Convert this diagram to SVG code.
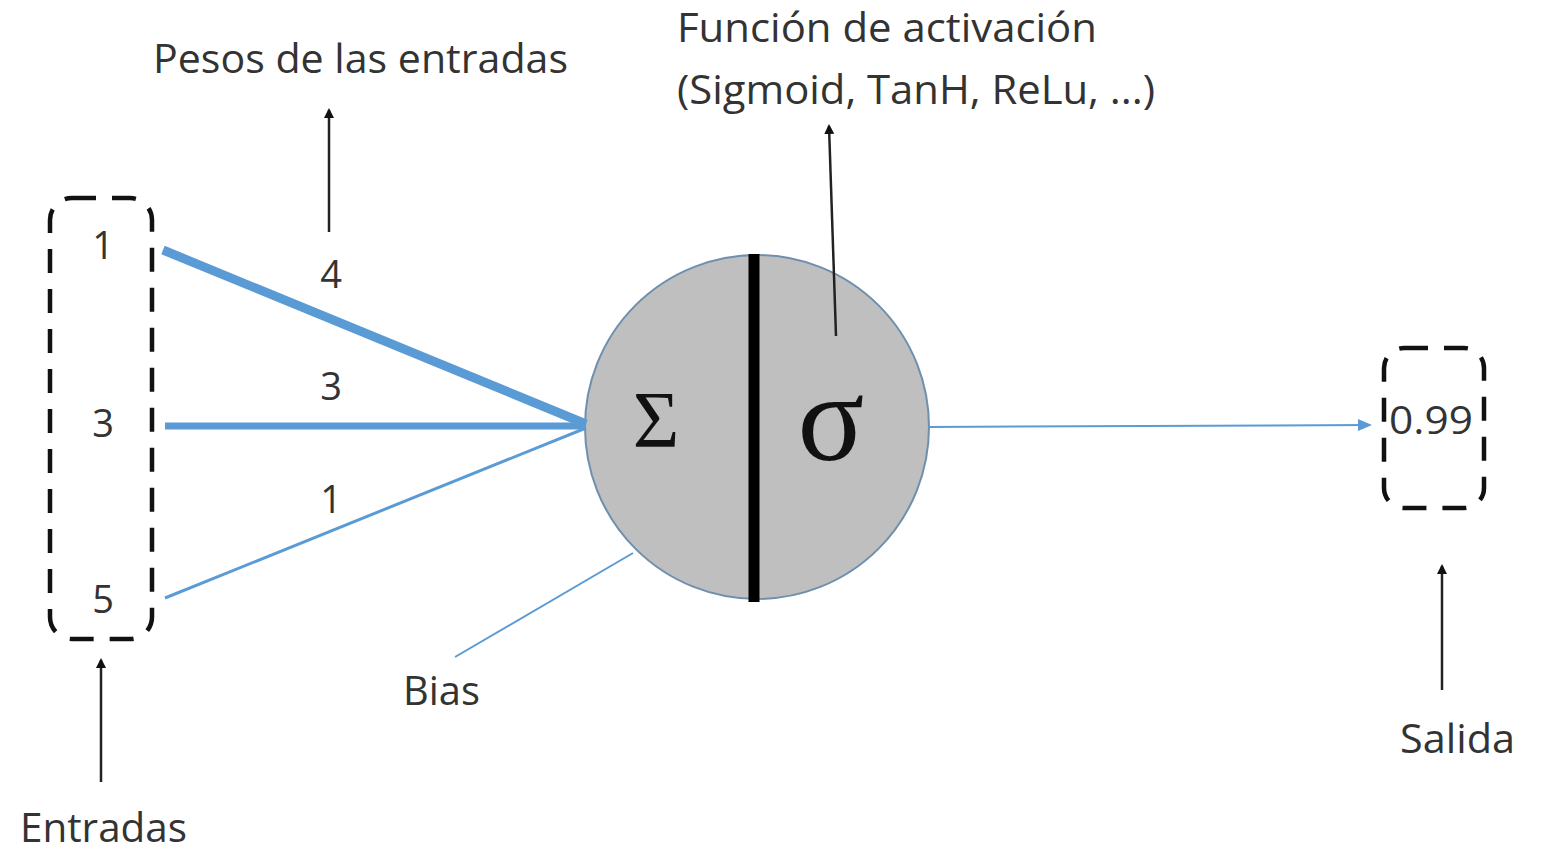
<svg xmlns="http://www.w3.org/2000/svg" width="1541" height="853" viewBox="0 0 1541 853">
<style>
.lbl{font-family:"Open Sans","Noto Sans",sans-serif;font-size:40px;fill:#333}
.num{font-family:"Open Sans","Noto Sans",sans-serif;font-size:38px;fill:#333;text-anchor:middle}
.greek{font-family:"Liberation Serif",serif;fill:#111;text-anchor:middle}
.dash{fill:none;stroke:#111;stroke-width:4.5;stroke-dasharray:24 16}
.blue{stroke:#5b9bd5;fill:none}
.ptr{stroke:#222;stroke-width:2.5;fill:none;marker-end:url(#ah)}
</style>
<defs>
<marker id="ah" markerWidth="10" markerHeight="10" refX="8" refY="5" orient="auto" markerUnits="userSpaceOnUse">
<path d="M0,0 L10,5 L0,10 z" fill="#111"/>
</marker>
<marker id="bh" markerWidth="14" markerHeight="12" refX="12" refY="6" orient="auto" markerUnits="userSpaceOnUse">
<path d="M0,0 L14,6 L0,12 z" fill="#5b9bd5"/>
</marker>
</defs>
<rect width="1541" height="853" fill="#fff"/>
<g id="neuron">
<circle cx="757" cy="427" r="172" fill="#bfbfbf" stroke="#6f8fae" stroke-width="2"/>
<line x1="754" y1="254" x2="754" y2="602" stroke="#000" stroke-width="11"/>
<text class="greek" x="656" y="447" font-size="80">Σ</text>
<text class="greek" x="831" y="460" font-size="124">σ</text>
</g>
<g id="connectors">
<line class="blue" x1="163" y1="250" x2="586" y2="424" stroke-width="9"/>
<line class="blue" x1="165" y1="426" x2="586" y2="426" stroke-width="7"/>
<line class="blue" x1="165" y1="598" x2="586" y2="428" stroke-width="3"/>
<line class="blue" x1="633" y1="553" x2="455" y2="657" stroke-width="2"/>
<line class="blue" x1="929" y1="427" x2="1370" y2="425" stroke-width="2" marker-end="url(#bh)"/>
<line class="ptr" x1="329" y1="232" x2="329" y2="110"/>
<line class="ptr" x1="836" y1="336" x2="829" y2="126"/>
<line class="ptr" x1="1442" y1="690" x2="1442" y2="566"/>
<line class="ptr" x1="101" y1="782" x2="101" y2="660"/>
</g>
<g id="inputs">
<rect class="dash" x="50" y="198" width="102" height="441" rx="22"/>
<text class="num" x="103" y="259">1</text>
<text class="num" x="103" y="437">3</text>
<text class="num" x="103" y="613">5</text>
</g>
<g id="weights">
<text class="num" x="331" y="288">4</text>
<text class="num" x="331" y="400">3</text>
<text class="num" x="331" y="513">1</text>
</g>
<g id="output">
<rect class="dash" x="1384" y="348" width="100" height="160" rx="20"/>
<text class="num" x="1431" y="434" textLength="84" lengthAdjust="spacingAndGlyphs">0.99</text>
</g>
<g id="labels">
<text class="lbl" x="153" y="73" textLength="415" lengthAdjust="spacingAndGlyphs">Pesos de las entradas</text>
<text class="lbl" x="677" y="42" textLength="420" lengthAdjust="spacingAndGlyphs">Función de activación</text>
<text class="lbl" x="677" y="104" textLength="478" lengthAdjust="spacingAndGlyphs">(Sigmoid, TanH, ReLu, ...)</text>
<text class="lbl" x="403" y="705" textLength="77" lengthAdjust="spacingAndGlyphs">Bias</text>
<text class="lbl" x="1400" y="753" textLength="115" lengthAdjust="spacingAndGlyphs">Salida</text>
<text class="lbl" x="20" y="842" font-size="38" textLength="167" lengthAdjust="spacingAndGlyphs">Entradas</text>
</g>
</svg>
